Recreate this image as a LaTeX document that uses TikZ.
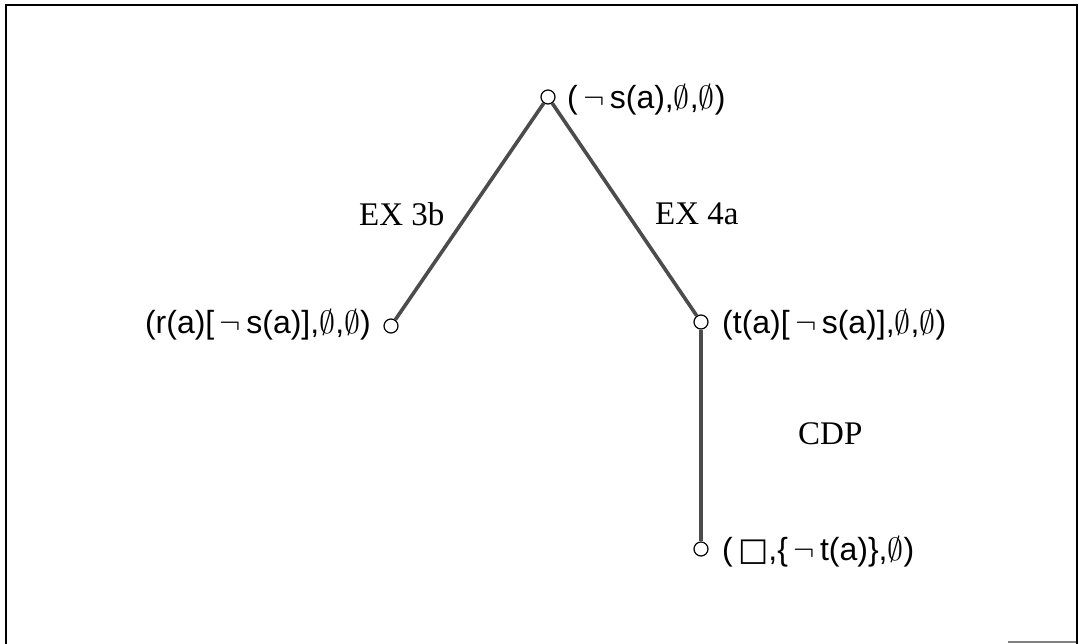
\RequirePackage{fix-cm}
\documentclass[tikz,border=0pt]{standalone}
\usepackage{fontspec}
\setmainfont{Liberation Serif}
\newfontfamily\formfont{Liberation Sans}
\newfontfamily\symfont{DejaVu Sans}
\begin{document}
\begin{tikzpicture}[x=1pt,y=-1pt,
  vert/.style={circle,draw=black,line width=1.2pt,fill=white,minimum size=14pt,inner sep=0pt},
  edge/.style={line width=3.6pt,black!70},
  formula/.style={font=\formfont\fontsize{32}{38}\selectfont,inner sep=0pt},
  rulelab/.style={font=\fontsize{33}{38}\selectfont,inner sep=0pt}]
\useasboundingbox (0,0) rectangle (1079,644);
% frame
\draw[line width=2.4pt,black] (6,644) -- (6,5) -- (1077,5) -- (1077,644);
\draw[line width=1.5pt,black!50] (1008,642) -- (1076,642);
% vertices
\node[vert] (top) at (548,97) {};
\node[vert] (left) at (391,326) {};
\node[vert] (right) at (701,322) {};
\node[vert] (bot) at (701,549) {};
% connectors
\draw[edge] (top) -- (left);
\draw[edge] (top) -- (right);
\draw[edge] (right) -- (bot);
% formulas
\node[formula,anchor=west] (ftop) at (567,100) {(\,$\neg$\,s(a),$\emptyset$,$\emptyset$)};
\node[formula,anchor=east] (fleft) at (371,325) {(r(a)[\,$\neg$\,s(a)],$\emptyset$,$\emptyset$)};
\node[formula,anchor=west] (fright) at (722,325) {(t(a)[\,$\neg$\,s(a)],$\emptyset$,$\emptyset$)};
\node[formula,anchor=west] (fbot) at (722,552) {(\,{\symfont □},\{\,$\neg$\,t(a)\},$\emptyset$)};
% rule labels
\node[rulelab,anchor=west] (l1) at (359,214) {EX 3b};
\node[rulelab,anchor=west] (l2) at (655,214) {EX 4a};
\node[rulelab,anchor=west] (l3) at (798,434) {CDP};
\end{tikzpicture}
\end{document}
